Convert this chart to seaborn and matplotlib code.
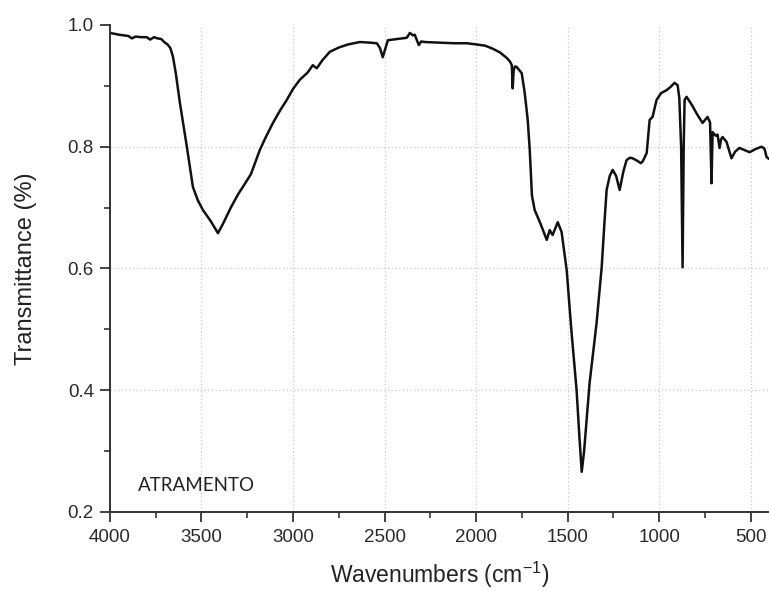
import matplotlib
matplotlib.use("Agg")
import matplotlib.pyplot as plt
import seaborn as sns
import pandas as pd
from matplotlib.ticker import MultipleLocator

# FTIR spectrum of the ink sample
wavenumber = [
    4000, 3950, 3900, 3880, 3860, 3830, 3800, 3780, 3760, 3740, 3720, 3700,
    3685, 3670, 3656, 3640, 3618, 3580, 3547, 3520, 3492, 3450, 3410, 3380,
    3340, 3300, 3274, 3230, 3181, 3150, 3110, 3070, 3034, 3000, 2963, 2920,
    2892, 2880, 2870, 2840, 2799, 2750, 2700, 2635, 2580, 2542, 2525, 2510,
    2495, 2482, 2430, 2379, 2370, 2362, 2345, 2335, 2313, 2300, 2280, 2200,
    2120, 2051, 1997, 1950, 1909, 1870, 1833, 1815, 1805, 1800, 1795, 1788,
    1778, 1751, 1735, 1718, 1707, 1695, 1680, 1650, 1614, 1598, 1582, 1565,
    1554, 1533, 1505, 1480, 1451, 1435, 1423, 1410, 1380, 1342, 1314, 1300,
    1287, 1270, 1254, 1235, 1216, 1195, 1178, 1160, 1145, 1120, 1100, 1090,
    1080, 1068, 1052, 1036, 1014, 990, 959, 935, 916, 899, 890, 880,
    872, 866, 861, 850, 820, 796, 763, 736, 722, 714, 708, 703,
    690, 681, 670, 662, 654, 643, 632, 605, 585, 561, 530, 506,
    475, 441, 425, 413, 400,
]
transmittance = [
    0.987, 0.984, 0.982, 0.978, 0.981, 0.980, 0.980, 0.976, 0.980, 0.978, 0.977, 0.971,
    0.968, 0.962, 0.948, 0.920, 0.872, 0.800, 0.734, 0.712, 0.696, 0.678, 0.658, 0.675,
    0.700, 0.722, 0.734, 0.755, 0.795, 0.815, 0.839, 0.860, 0.877, 0.895, 0.910, 0.922,
    0.934, 0.931, 0.929, 0.942, 0.956, 0.963, 0.968, 0.972, 0.971, 0.970, 0.962, 0.947,
    0.962, 0.975, 0.977, 0.979, 0.983, 0.987, 0.983, 0.984, 0.967, 0.973, 0.972, 0.971,
    0.970, 0.970, 0.968, 0.966, 0.961, 0.955, 0.946, 0.940, 0.934, 0.896, 0.925, 0.932,
    0.931, 0.921, 0.890, 0.844, 0.795, 0.720, 0.696, 0.675, 0.647, 0.663, 0.655, 0.668,
    0.676, 0.660, 0.597, 0.500, 0.400, 0.320, 0.266, 0.300, 0.412, 0.510, 0.602, 0.670,
    0.729, 0.752, 0.762, 0.752, 0.729, 0.760, 0.778, 0.782, 0.781, 0.777, 0.773, 0.776,
    0.782, 0.790, 0.844, 0.849, 0.877, 0.888, 0.893, 0.899, 0.905, 0.901, 0.880, 0.800,
    0.602, 0.800, 0.877, 0.882, 0.868, 0.855, 0.839, 0.849, 0.840, 0.740, 0.824, 0.822,
    0.818, 0.820, 0.798, 0.812, 0.816, 0.812, 0.808, 0.781, 0.792, 0.798, 0.794, 0.791,
    0.796, 0.800, 0.797, 0.783, 0.780,
]

df = pd.DataFrame({"Wavenumber": wavenumber, "Transmittance": transmittance})

sns.set_style("ticks")
plt.rcParams["font.family"] = ["Liberation Sans", "DejaVu Sans"]
plt.rcParams["mathtext.fontset"] = "custom"
plt.rcParams["mathtext.rm"] = "Liberation Sans"
plt.rcParams["mathtext.it"] = "Liberation Sans"

fig = plt.figure(figsize=(7.69, 5.91), dpi=100)
ax = fig.add_axes([0.143, 0.1337, 0.857, 0.824])

sns.lineplot(data=df, x="Wavenumber", y="Transmittance", ax=ax,
             color="#111111", linewidth=1.8, estimator=None, sort=False)

ax.set_xlim(4000, 400)
ax.set_ylim(0.2, 1.0)

ax.set_xticks([4000, 3500, 3000, 2500, 2000, 1500, 1000, 500])
ax.set_yticks([0.2, 0.4, 0.6, 0.8, 1.0])
ax.xaxis.set_minor_locator(MultipleLocator(250))
ax.yaxis.set_minor_locator(MultipleLocator(0.1))
ax.set_yticklabels(["0.2", "0.4", "0.6", "0.8", "1.0"])

ax.grid(True, which="major", linestyle=(0, (1, 2)), color="#c8c8c8", linewidth=0.9)
for tick in ax.xaxis.get_major_ticks():
    if tick.get_loc() == 4000:
        tick.gridline.set_visible(False)
for tick in ax.yaxis.get_major_ticks():
    if tick.get_loc() in (0.2, 1.0):
        tick.gridline.set_visible(False)

for side in ("top", "right"):
    ax.spines[side].set_visible(False)
for side in ("left", "bottom"):
    ax.spines[side].set_color("#333333")
    ax.spines[side].set_linewidth(1.4)

ax.tick_params(which="major", direction="out", length=7, width=1.3,
               color="#333333", labelsize=13.5, labelcolor="#2a2a2a")
ax.tick_params(axis="x", which="major", pad=5.5)
ax.tick_params(axis="y", which="major", pad=4.5)
ax.tick_params(which="minor", direction="out", length=4, width=1.2,
               color="#333333")

ax.set_xlabel("Wavenumbers (cm$^{\\mathregular{-1}}$)", fontsize=16.5,
              color="#222222", labelpad=10)
ax.set_ylabel("Transmittance (%)", fontsize=17, color="#222222", labelpad=22)

ax.text(0.042, 0.037, "ATRAMENTO", transform=ax.transAxes, fontsize=13.5,
        family=["Lato", "DejaVu Sans"], color="#222222", va="bottom", ha="left")

fig.savefig("out.png", dpi=100, facecolor="white")
